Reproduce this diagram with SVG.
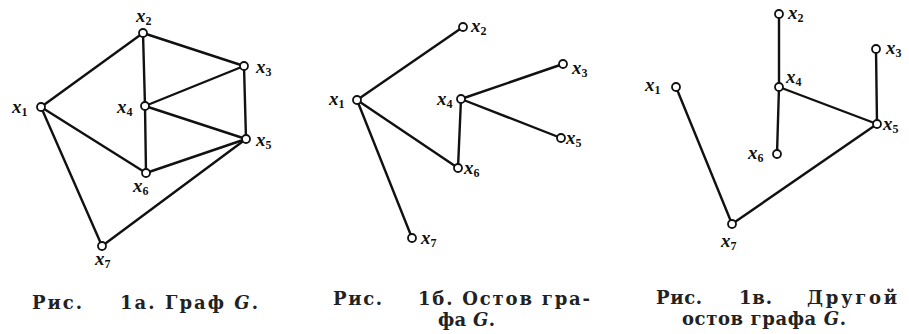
<svg xmlns="http://www.w3.org/2000/svg" width="909" height="334" viewBox="0 0 909 334">
<style>
.e{stroke:#111;stroke-width:2.4;fill:none;stroke-linecap:round}
.n{fill:#fff;stroke:#111;stroke-width:1.8}
.l{font-family:"Liberation Serif",serif;font-style:italic;font-weight:bold;font-size:19px;fill:#111}
.s{font-size:12px;font-style:normal}
.c{font-family:"DejaVu Serif","Liberation Serif",serif;font-weight:bold;font-size:18px;fill:#222}
.i{font-style:italic}
</style>
<rect width="909" height="334" fill="#fff"/>
<g id="connectors">
<!-- graph a -->
<line class="e" x1="41" y1="107" x2="143" y2="33"/>
<line class="e" x1="41" y1="107" x2="146" y2="173"/>
<line class="e" x1="41" y1="107" x2="102" y2="246"/>
<line class="e" x1="143" y1="33" x2="145" y2="106"/>
<line class="e" x1="143" y1="33" x2="244" y2="66"/>
<line class="e" x1="244" y1="66" x2="145" y2="106"/>
<line class="e" x1="244" y1="66" x2="246" y2="139"/>
<line class="e" x1="145" y1="106" x2="246" y2="139"/>
<line class="e" x1="145" y1="106" x2="146" y2="173"/>
<line class="e" x1="146" y1="173" x2="246" y2="139"/>
<line class="e" x1="102" y1="246" x2="246" y2="139"/>
<!-- graph b -->
<line class="e" x1="357" y1="100" x2="463" y2="27"/>
<line class="e" x1="357" y1="100" x2="458" y2="168"/>
<line class="e" x1="357" y1="100" x2="412" y2="238"/>
<line class="e" x1="461" y1="99" x2="458" y2="168"/>
<line class="e" x1="461" y1="99" x2="563" y2="64"/>
<line class="e" x1="461" y1="99" x2="561" y2="138"/>
<!-- graph c -->
<line class="e" x1="779" y1="14" x2="779" y2="87"/>
<line class="e" x1="779" y1="87" x2="777" y2="154"/>
<line class="e" x1="779" y1="87" x2="877" y2="124"/>
<line class="e" x1="876" y1="49" x2="877" y2="124"/>
<line class="e" x1="676" y1="87" x2="732" y2="224"/>
<line class="e" x1="732" y1="224" x2="877" y2="124"/>
</g>
<!-- graph a nodes -->
<g id="a-x1"><circle class="n" cx="41" cy="107" r="4"/><text class="l" x="12" y="113">x<tspan class="s" dy="3">1</tspan></text></g>
<g id="a-x2"><circle class="n" cx="143" cy="33" r="4"/><text class="l" x="136" y="22">x<tspan class="s" dy="3">2</tspan></text></g>
<g id="a-x3"><circle class="n" cx="244" cy="66" r="4"/><text class="l" x="256" y="73">x<tspan class="s" dy="3">3</tspan></text></g>
<g id="a-x4"><circle class="n" cx="145" cy="106" r="4"/><text class="l" x="117" y="113">x<tspan class="s" dy="3">4</tspan></text></g>
<g id="a-x5"><circle class="n" cx="246" cy="139" r="4"/><text class="l" x="256" y="146">x<tspan class="s" dy="3">5</tspan></text></g>
<g id="a-x6"><circle class="n" cx="146" cy="173" r="4"/><text class="l" x="133" y="192">x<tspan class="s" dy="3">6</tspan></text></g>
<g id="a-x7"><circle class="n" cx="102" cy="246" r="4"/><text class="l" x="95" y="265">x<tspan class="s" dy="3">7</tspan></text></g>
<!-- graph b nodes -->
<g id="b-x1"><circle class="n" cx="357" cy="100" r="4"/><text class="l" x="329" y="105">x<tspan class="s" dy="3">1</tspan></text></g>
<g id="b-x2"><circle class="n" cx="463" cy="27" r="4"/><text class="l" x="471" y="32">x<tspan class="s" dy="3">2</tspan></text></g>
<g id="b-x3"><circle class="n" cx="563" cy="64" r="4"/><text class="l" x="572" y="74">x<tspan class="s" dy="3">3</tspan></text></g>
<g id="b-x4"><circle class="n" cx="461" cy="99" r="4"/><text class="l" x="437" y="105">x<tspan class="s" dy="3">4</tspan></text></g>
<g id="b-x5"><circle class="n" cx="561" cy="138" r="4"/><text class="l" x="566" y="144">x<tspan class="s" dy="3">5</tspan></text></g>
<g id="b-x6"><circle class="n" cx="458" cy="168" r="4"/><text class="l" x="464" y="174">x<tspan class="s" dy="3">6</tspan></text></g>
<g id="b-x7"><circle class="n" cx="412" cy="238" r="4"/><text class="l" x="421" y="244">x<tspan class="s" dy="3">7</tspan></text></g>
<!-- graph c nodes -->
<g id="c-x1"><circle class="n" cx="676" cy="87" r="4"/><text class="l" x="645" y="91">x<tspan class="s" dy="3">1</tspan></text></g>
<g id="c-x2"><circle class="n" cx="779" cy="14" r="4"/><text class="l" x="788" y="19">x<tspan class="s" dy="3">2</tspan></text></g>
<g id="c-x3"><circle class="n" cx="876" cy="49" r="4"/><text class="l" x="886" y="54">x<tspan class="s" dy="3">3</tspan></text></g>
<g id="c-x4"><circle class="n" cx="779" cy="87" r="4"/><text class="l" x="786" y="83">x<tspan class="s" dy="3">4</tspan></text></g>
<g id="c-x5"><circle class="n" cx="877" cy="124" r="4"/><text class="l" x="883" y="130">x<tspan class="s" dy="3">5</tspan></text></g>
<g id="c-x6"><circle class="n" cx="777" cy="154" r="4"/><text class="l" x="748" y="159">x<tspan class="s" dy="3">6</tspan></text></g>
<g id="c-x7"><circle class="n" cx="732" cy="224" r="4"/><text class="l" x="721" y="247">x<tspan class="s" dy="3">7</tspan></text></g>
<!-- captions -->
<g id="captions">
<text class="c" x="32" y="309" textLength="50" lengthAdjust="spacing">Рис.</text>
<text class="c" x="120" y="309" textLength="138" lengthAdjust="spacing">1а. Граф <tspan class="i">G</tspan>.</text>
<text class="c" x="333" y="305" textLength="49" lengthAdjust="spacing">Рис.</text>
<text class="c" x="418" y="305" textLength="172" lengthAdjust="spacing">1б. Остов гра-</text>
<text class="c" x="438" y="326" textLength="57" lengthAdjust="spacing">фа <tspan class="i">G</tspan>.</text>
<text class="c" x="656" y="304" textLength="46" lengthAdjust="spacing">Рис.</text>
<text class="c" x="739" y="304" textLength="33" lengthAdjust="spacing">1в.</text>
<text class="c" x="807" y="304" textLength="90" lengthAdjust="spacing">Другой</text>
<text class="c" x="682" y="325" textLength="164" lengthAdjust="spacing">остов графа <tspan class="i">G</tspan>.</text>
</g>
</svg>
